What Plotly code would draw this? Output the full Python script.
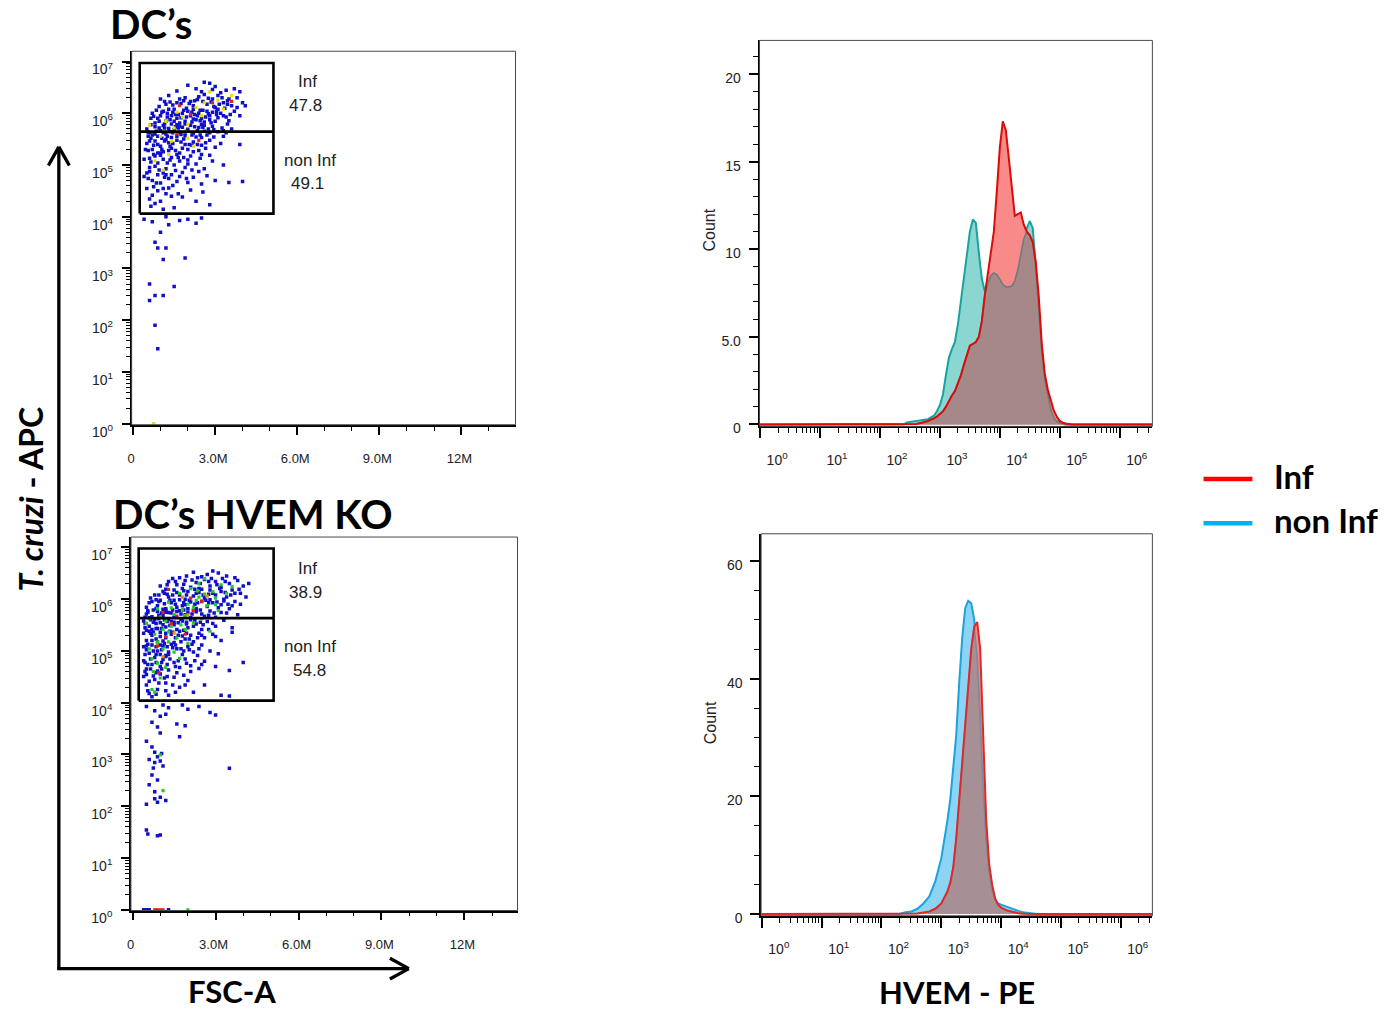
import plotly.graph_objects as go

W, H = 1391, 1027


def px(x):
    return x / W


def py(y):
    return 1 - y / H


# ------------------------------------------------------------------
# DATA
# Dot plots: (FSC-A in millions, T. cruzi - APC intensity)
# ------------------------------------------------------------------
tl_blue = [
    (2.0, 3.5e6), (2.6, 4.0e6), (2.8, 3.8e6), (3.0, 3.3e6), (2.3, 3.0e6), (3.4, 2.8e6), (3.7, 3.0e6),
    (3.9, 2.6e6), (1.6, 2.7e6), (2.9, 2.9e6), (3.2, 2.5e6), (2.5, 2.6e6),
    (1.0, 1.9e6), (1.3, 2.2e6), (1.6, 1.6e6), (1.9, 2.0e6), (2.1, 1.7e6), (2.4, 2.1e6), (2.7, 1.5e6),
    (2.9, 1.9e6), (3.1, 2.2e6), (3.3, 1.6e6), (3.5, 1.9e6), (3.8, 2.0e6), (4.0, 1.6e6), (4.1, 1.4e6),
    (3.6, 1.4e6), (2.2, 1.4e6), (1.7, 1.9e6), (1.2, 1.5e6), (2.6, 2.3e6), (3.0, 1.3e6),
    (0.7, 1.0e6), (0.9, 8e5), (1.1, 1.1e6), (1.2, 7e5), (1.4, 9e5), (1.5, 1.2e6), (1.6, 8e5),
    (1.8, 1.0e6), (1.9, 7e5), (2.0, 1.1e6), (2.1, 9e5), (2.3, 7.5e5), (2.4, 1.0e6), (2.5, 8e5),
    (2.7, 1.1e6), (2.8, 9e5), (3.0, 7e5), (3.2, 1.0e6), (3.4, 8.5e5), (3.7, 1.1e6), (3.9, 9e5),
    (1.3, 1.2e6), (1.7, 6.5e5), (2.2, 1.2e6), (2.6, 6.8e5), (3.1, 1.2e6), (0.8, 6.5e5), (1.0, 9e5),
    (1.5, 7e5), (2.9, 1.05e6),
    (0.5, 5e5), (0.6, 4.2e5), (0.8, 5.5e5), (0.9, 3.6e5), (1.0, 4.6e5), (1.1, 5.8e5), (1.2, 4e5),
    (1.3, 5.1e5), (1.4, 3.4e5), (1.5, 4.8e5), (1.6, 6e5), (1.7, 4.3e5), (1.8, 5.4e5), (1.9, 3.7e5),
    (2.0, 4.9e5), (2.1, 5.9e5), (2.2, 4.1e5), (2.3, 3.5e5), (2.4, 5.3e5), (2.6, 4.5e5), (2.7, 3.8e5),
    (2.9, 5.6e5), (3.1, 4.4e5), (3.3, 3.6e5), (3.6, 5.0e5), (1.05, 3.3e5), (1.55, 5.5e5),
    (1.75, 3.9e5), (0.7, 3.8e5), (2.5, 6.1e5),
    (0.5, 2.6e5), (0.7, 2.0e5), (0.8, 2.9e5), (1.0, 2.3e5), (1.1, 1.8e5), (1.3, 2.7e5), (1.4, 2.1e5),
    (1.6, 3.0e5), (1.7, 1.7e5), (1.9, 2.5e5), (2.0, 2.0e5), (2.2, 2.8e5), (2.4, 1.9e5), (2.5, 2.4e5),
    (2.8, 3.0e5), (3.0, 2.2e5), (1.2, 3.1e5), (0.9, 1.7e5), (3.9, 2.5e5),
    (0.4, 1.3e5), (0.6, 9e4), (0.8, 1.5e5), (0.9, 1.1e5), (1.1, 1.3e5), (1.2, 8.5e4), (1.4, 1.4e5),
    (1.5, 1.0e5), (1.7, 1.2e5), (1.9, 9e4), (2.1, 1.5e5), (2.3, 1.05e5), (2.6, 8.5e4), (2.9, 1.2e5),
    (3.3, 1.0e5), (1.0, 1.55e5), (2.0, 1.25e5),
    (0.4, 6e4), (0.6, 7.5e4), (0.7, 5e4), (0.9, 6.5e4), (1.0, 4.5e4), (1.1, 7e4), (1.3, 5.5e4),
    (1.6, 4.8e4), (1.8, 7.2e4), (2.0, 4.6e4), (2.2, 5.8e4), (2.5, 4.3e4), (2.7, 6.2e4), (3.0, 5.0e4),
    (3.5, 4.6e4), (4.0, 4.8e4), (1.4, 6.5e4), (2.4, 7.5e4),
    (0.5, 3.5e4), (0.7, 2.6e4), (0.9, 3.2e4), (1.0, 2.0e4), (1.2, 2.8e4), (1.3, 3.6e4), (1.5, 1.5e4),
    (1.8, 2.4e4), (2.1, 3.3e4), (2.3, 2.0e4), (2.8, 1.7e4), (1.1, 1.4e4), (0.8, 1.8e4),
    (0.4, 9e3), (0.7, 8e3), (1.2, 1.0e4), (1.3, 7e3), (1.7, 8.5e3), (2.0, 9e3), (2.3, 7.5e3),
    (2.5, 9.5e3), (1.0, 5e3), (0.8, 3.2e3), (0.9, 2.5e3), (1.1, 1.5e3), (1.2, 2.5e3), (1.9, 1.6e3),
    (0.6, 5e2), (0.6, 2.4e2), (0.8, 3e2), (1.1, 3e2), (1.5, 4.5e2), (0.8, 8e1), (0.9, 2.8e1),
    # denser core
    (1.35, 1.65e6), (1.85, 1.75e6), (2.35, 1.85e6), (2.75, 1.95e6), (3.25, 2.0e6), (3.45, 1.5e6),
    (1.45, 1.05e6), (1.95, 1.25e6), (2.45, 1.15e6), (2.95, 1.35e6), (3.35, 1.25e6), (3.8, 1.3e6),
    (0.85, 1.15e6), (1.25, 8.5e5), (1.75, 8.2e5), (2.25, 9.5e5), (2.65, 8.5e5), (3.05, 9.5e5),
    (3.55, 9.5e5), (0.65, 8e5), (1.15, 6.2e5), (1.65, 5.2e5), (2.15, 6.8e5), (2.55, 5.4e5),
    (2.85, 6.6e5), (3.45, 6.2e5), (0.55, 4.3e5), (0.95, 5.2e5), (1.45, 4.2e5), (1.95, 4.5e5),
    (2.35, 4.6e5), (2.75, 5.0e5), (3.25, 5.2e5), (0.65, 3.3e5), (1.25, 3.6e5), (1.85, 3.2e5),
    (2.45, 3.8e5), (2.95, 3.5e5), (0.75, 2.4e5), (1.35, 2.3e5), (1.55, 1.9e5), (2.15, 2.4e5),
    (2.65, 2.1e5), (0.55, 1.9e5), (1.05, 2.0e5), (1.85, 1.4e5), (2.45, 1.35e5), (0.65, 1.15e5),
    (1.25, 1.1e5), (0.95, 8e4), (1.55, 7.8e4), (2.15, 8e4), (0.55, 5.5e4), (1.15, 5.8e4),
    (1.95, 5.5e4), (0.75, 3.8e4), (1.45, 4e4), (2.55, 3e4), (0.65, 1.6e4), (1.65, 2.8e4),
    (0.95, 1.35e6), (1.15, 1.7e6), (1.45, 1.45e6), (1.75, 1.55e6), (2.05, 1.55e6), (2.25, 1.75e6),
    (2.55, 1.7e6), (2.85, 1.65e6), (3.15, 1.5e6), (3.45, 1.75e6),
    (1.05, 1.05e6), (1.25, 1.0e6), (1.55, 9.5e5), (1.85, 1.15e6), (2.15, 1.05e6), (2.35, 9e5),
    (2.55, 1.15e6), (2.75, 9.8e5), (3.05, 1.1e6), (3.3, 9e5),
    (0.75, 8.8e5), (0.95, 7e5), (1.35, 7.5e5), (1.65, 9.5e5), (1.95, 8.5e5), (2.2, 7.8e5),
    (2.45, 7.2e5), (2.8, 7.5e5), (3.1, 8.2e5), (3.5, 7.2e5),
    (0.65, 6e5), (0.85, 4.5e5), (1.15, 5.2e5), (1.4, 6.2e5), (1.7, 5.6e5), (1.9, 6.2e5),
    (2.25, 5.5e5), (2.6, 5.9e5), (2.95, 4.8e5), (3.3, 4.6e5),
    (0.55, 3.6e5), (0.8, 4.0e5), (1.1, 4.2e5), (1.35, 4.4e5), (1.6, 3.6e5), (1.9, 4.1e5),
    (2.15, 3.8e5), (2.5, 3.4e5), (2.8, 4.2e5), (3.4, 4.2e5),
    (0.6, 2.9e5), (0.9, 2.5e5), (1.15, 2.9e5), (1.45, 2.6e5), (1.75, 2.8e5), (2.05, 2.5e5),
    (2.35, 2.5e5), (2.65, 2.7e5), (3.2, 2.6e5), (0.45, 2.0e5),
    (0.75, 1.6e5), (1.0, 1.7e5), (1.3, 1.9e5), (1.6, 1.6e5), (1.8, 2.1e5), (2.2, 1.8e5),
    (2.5, 1.6e5), (2.8, 1.55e5), (0.6, 1.35e5), (1.35, 1.25e5),
    (1.65, 1.4e5), (2.0, 1.05e5), (0.8, 9.5e4), (1.2, 6.5e4), (0.5, 7e4), (1.7, 6e4),
    (0.85, 4.5e4), (1.1, 3.5e4), (0.6, 2.2e4), (1.4, 2.5e4),
]
tl_yellow = [
    (1.2, 7e5), (1.5, 5.2e5), (1.8, 8.5e5), (2.0, 6.2e5), (2.3, 1.3e6), (2.6, 1.6e6), (3.1, 1.8e6),
    (3.6, 2.2e6), (1.0, 3.6e5), (1.4, 2.9e5), (1.9, 4.4e5), (2.2, 2.3e5), (0.8, 1.2e5), (1.1, 8e4),
    (2.5, 9e5), (1.6, 1.05e6), (2.8, 2.6e6), (0.6, 6e5), (1.3, 1.6e5), (3.3, 1.2e6), (0.75, 1.0),
    (2.0, 3.3e5),
]
tl_red = [(1.7, 1.4e6), (2.9, 1.6e6), (3.6, 1.7e6), (2.1, 9.5e5), (1.6, 4e5), (2.4, 3e5)]

bl_blue = [
    (1.7, 2.6e6), (2.2, 3.3e6), (2.7, 3.0e6), (3.1, 3.2e6), (3.4, 2.8e6), (2.5, 2.7e6), (3.7, 2.6e6),
    (2.9, 3.5e6),
    (1.0, 1.8e6), (1.3, 2.2e6), (1.6, 1.9e6), (1.9, 2.3e6), (2.1, 1.7e6), (2.3, 2.1e6), (2.6, 2.4e6),
    (2.8, 1.8e6), (3.0, 2.2e6), (3.2, 1.7e6), (3.5, 2.0e6), (3.8, 2.3e6), (4.0, 1.8e6), (4.2, 2.0e6),
    (2.4, 1.6e6), (1.8, 1.6e6),
    (0.8, 1.2e6), (1.1, 1.4e6), (1.3, 1.1e6), (1.5, 1.5e6), (1.7, 1.2e6), (1.9, 1.0e6), (2.0, 1.4e6),
    (2.2, 1.15e6), (2.4, 1.35e6), (2.6, 1.05e6), (2.8, 1.5e6), (3.0, 1.2e6), (3.2, 1.4e6),
    (3.4, 1.1e6), (3.6, 1.5e6), (3.9, 1.3e6), (4.1, 1.1e6), (2.5, 1.55e6), (1.2, 1.55e6), (3.3, 1.0e6),
    (0.5, 7e5), (0.7, 9e5), (0.9, 7.5e5), (1.0, 9.5e5), (1.2, 6.5e5), (1.4, 8.5e5), (1.6, 7e5),
    (1.7, 9.8e5), (1.9, 7.8e5), (2.1, 8.8e5), (2.3, 6.6e5), (2.5, 9e5), (2.7, 7.2e5), (2.9, 8.5e5),
    (3.1, 6.8e5), (3.3, 9.2e5), (3.6, 7.5e5), (3.9, 8.0e5), (1.1, 6.4e5), (2.0, 6.5e5), (2.8, 9.7e5),
    (3.5, 6.5e5),
    (0.5, 5.2e5), (0.7, 4.6e5), (0.9, 5.8e5), (1.1, 4.8e5), (1.3, 5.5e5), (1.5, 4.5e5), (1.7, 6e5),
    (1.9, 5e5), (2.1, 4.4e5), (2.3, 5.7e5), (2.6, 4.7e5), (2.8, 5.9e5), (3.0, 4.5e5), (3.4, 5.4e5),
    (3.8, 5.0e5), (1.2, 6.1e5), (2.0, 5.6e5),
    (0.4, 3.8e5), (0.6, 3.0e5), (0.8, 4.0e5), (0.9, 2.7e5), (1.0, 3.5e5), (1.2, 2.9e5), (1.3, 4.1e5),
    (1.5, 3.2e5), (1.6, 2.6e5), (1.8, 3.8e5), (2.0, 2.8e5), (2.1, 4.0e5), (2.3, 3.3e5), (2.5, 2.6e5),
    (2.7, 3.7e5), (3.0, 3.0e5), (3.3, 3.9e5), (3.6, 2.8e5), (0.7, 2.6e5), (1.4, 3.7e5),
    (0.4, 2.2e5), (0.5, 1.6e5), (0.7, 2.0e5), (0.9, 1.5e5), (1.0, 2.3e5), (1.2, 1.8e5), (1.4, 2.1e5),
    (1.5, 1.45e5), (1.7, 2.4e5), (1.9, 1.7e5), (2.1, 2.0e5), (2.2, 1.5e5), (2.4, 2.2e5), (2.6, 1.8e5),
    (2.9, 2.1e5), (3.2, 1.6e5), (0.6, 2.4e5), (1.1, 1.55e5), (1.8, 1.95e5), (3.6, 2.3e5),
    (0.4, 1.2e5), (0.6, 9e4), (0.7, 1.3e5), (0.9, 1.0e5), (1.0, 8.5e4), (1.1, 1.25e5), (1.3, 9.5e4),
    (1.4, 1.35e5), (1.6, 1.1e5), (1.8, 8.5e4), (2.0, 1.2e5), (2.2, 9.5e4), (2.5, 1.3e5), (2.8, 1.0e5),
    (3.1, 8.8e4), (0.5, 1.05e5), (1.2, 8.2e4),
    (0.4, 6.5e4), (0.5, 4.5e4), (0.7, 5.5e4), (0.8, 7.5e4), (1.0, 5e4), (1.1, 6.8e4), (1.3, 4.3e4),
    (1.5, 6e4), (1.7, 4.8e4), (1.9, 7e4), (2.1, 5.2e4), (2.4, 4.6e4), (2.6, 6.3e4), (3.0, 5e4),
    (3.5, 4.2e4), (4.0, 6e4), (0.9, 4.1e4), (1.2, 7.8e4),
    (0.4, 3.2e4), (0.5, 2.2e4), (0.6, 1.5e4), (0.8, 2.8e4), (0.9, 1.8e4), (1.0, 3.6e4), (1.2, 2.4e4),
    (1.3, 1.4e4), (1.5, 3.1e4), (1.7, 2.0e4), (2.0, 2.7e4), (2.2, 1.6e4), (2.6, 2.2e4), (3.2, 1.4e4),
    (3.5, 1.35e4), (0.7, 1.3e4),
    (0.5, 8.5e3), (0.8, 7e3), (1.1, 9e3), (1.3, 8e3), (1.8, 9e3), (2.0, 7.5e3), (2.4, 8.5e3),
    (2.8, 6.5e3), (3.0, 5.8e3), (1.0, 5.5e3), (1.2, 6e3), (0.7, 4.2e3), (0.9, 3.4e3), (1.0, 2.6e3),
    (1.6, 3.9e3), (1.9, 3.6e3), (1.7, 2.2e3), (0.5, 1.8e3), (0.7, 1.4e3), (0.8, 1.1e3), (0.9, 9e2),
    (0.6, 8e2), (0.8, 7e2), (1.0, 7.5e2), (1.1, 6e2), (0.7, 4e2), (0.9, 3.2e2), (0.6, 2.6e2),
    (0.8, 1.9e2), (1.0, 1.5e2), (0.9, 1.2e2), (0.8, 1.4e2), (1.2, 1.3e2), (0.5, 1.1e2), (1.05, 1.05e3),
    (0.75, 5.5e2), (3.5, 5.4e2), (0.5, 35), (0.55, 29), (0.9, 27), (1.0, 28),
    (0.4, 1.0), (0.5, 1.0), (0.6, 1.0), (1.3, 1.0),
    # denser core
    (1.45, 2.5e6), (1.95, 2.8e6), (2.35, 2.6e6), (2.85, 2.5e6), (3.25, 2.5e6), (1.15, 1.3e6),
    (1.45, 1.2e6), (1.85, 1.45e6), (2.25, 1.55e6), (2.75, 1.25e6), (3.15, 1.6e6), (3.55, 1.2e6),
    (3.85, 1.55e6), (0.65, 1.05e6), (0.95, 9e5), (1.35, 9.5e5), (1.55, 8e5), (1.85, 8.5e5),
    (2.25, 8e5), (2.65, 9.5e5), (3.05, 8.8e5), (3.45, 8e5), (0.55, 6e5), (0.85, 6.6e5), (1.05, 5.4e5),
    (1.45, 6.2e5), (1.75, 5.2e5), (2.15, 5.2e5), (2.45, 6.2e5), (2.95, 5.4e5), (0.45, 4.5e5),
    (0.65, 4.0e5), (0.85, 3.4e5), (1.15, 4.0e5), (1.35, 3.1e5), (1.65, 3.5e5), (1.95, 3.3e5),
    (2.25, 3.9e5), (2.55, 3.2e5), (0.45, 2.8e5), (0.75, 2.3e5), (1.05, 2.7e5), (1.35, 2.4e5),
    (1.55, 1.8e5), (1.95, 2.2e5), (2.35, 1.8e5), (2.75, 2.6e5), (0.55, 1.35e5), (0.85, 1.7e5),
    (1.15, 1.4e5), (1.45, 1.15e5), (1.75, 1.5e5), (2.15, 1.35e5), (0.45, 8.5e4), (0.75, 1.0e5),
    (1.05, 1.05e5), (1.35, 7e4), (1.85, 1.0e5), (2.35, 8.2e4), (0.55, 5.5e4), (0.85, 6e4),
    (1.25, 5.5e4), (1.65, 6.5e4), (2.25, 6.5e4), (0.45, 4e4), (0.75, 3.3e4), (1.15, 3.0e4),
    (1.45, 2.2e4), (1.85, 3.4e4), (0.55, 1.7e4), (0.95, 2.4e4), (1.55, 1.6e4),
    (1.25, 1.9e6), (1.55, 2.2e6), (1.85, 1.95e6), (2.15, 2.35e6), (2.45, 2.0e6), (2.75, 2.2e6),
    (3.05, 1.9e6), (3.35, 2.2e6),
    (0.95, 1.2e6), (1.25, 1.25e6), (1.6, 1.35e6), (1.95, 1.2e6), (2.3, 1.3e6), (2.55, 1.2e6),
    (2.9, 1.3e6), (3.35, 1.35e6), (3.7, 1.3e6),
    (0.6, 8.5e5), (0.85, 9.8e5), (1.15, 8.2e5), (1.5, 9.5e5), (1.8, 7.5e5), (2.05, 9.5e5),
    (2.35, 8.5e5), (2.75, 8.5e5), (3.2, 7.8e5), (3.7, 9e5),
    (0.55, 5.6e5), (0.75, 6.2e5), (0.95, 4.9e5), (1.2, 5.6e5), (1.4, 5.4e5), (1.6, 5.8e5),
    (1.85, 6.2e5), (2.2, 6.1e5), (2.5, 5.2e5), (2.75, 4.9e5), (3.2, 5.5e5),
    (0.45, 3.4e5), (0.6, 4.4e5), (0.75, 3.6e5), (0.95, 4.2e5), (1.1, 3.2e5), (1.25, 3.7e5),
    (1.5, 3.6e5), (1.75, 4.1e5), (1.95, 3.6e5), (2.2, 3.0e5), (2.45, 3.6e5), (2.9, 3.4e5),
    (0.5, 2.5e5), (0.65, 2.2e5), (0.85, 2.7e5), (1.0, 1.9e5), (1.2, 2.2e5), (1.45, 2.3e5),
    (1.65, 2.0e5), (1.85, 2.5e5), (2.05, 1.7e5), (2.5, 2.0e5), (3.0, 1.9e5),
    (0.5, 1.25e5), (0.7, 1.6e5), (0.85, 1.2e5), (1.0, 1.3e5), (1.25, 1.2e5), (1.55, 1.3e5),
    (1.75, 1.1e5), (2.05, 1.05e5), (2.4, 1.1e5),
    (0.45, 6e4), (0.65, 7e4), (0.85, 8.5e4), (1.05, 6e4), (1.3, 8.5e4), (1.55, 5e4), (1.95, 5.8e4),
    (2.5, 5.5e4),
    (0.5, 3.5e4), (0.65, 4.5e4), (0.85, 3.8e4), (1.05, 4.5e4), (1.25, 3.2e4), (1.6, 3.8e4),
    (2.1, 4e4), (0.6, 2.6e4), (0.85, 1.45e4), (1.2, 1.7e4), (1.9, 2.2e4),
]
bl_green = [
    (1.0, 4.5e5), (1.2, 3.8e5), (0.8, 2.1e5), (1.5, 5.1e5), (1.8, 6.2e5), (2.0, 8e5), (2.3, 9.5e5),
    (2.6, 1.25e6), (2.9, 1.4e6), (3.2, 1.9e6), (2.4, 2.0e6), (1.7, 1.3e6), (1.3, 8.8e5), (0.9, 1.5e5),
    (1.1, 1.1e5), (0.7, 7e4), (0.9, 5.8e4), (1.0, 3.0e4), (0.8, 1.6e4), (1.3, 2.3e5), (1.6, 1.8e5),
    (1.9, 2.6e5), (2.2, 3.5e5), (2.5, 4.2e5), (2.7, 7.5e5), (3.0, 1.05e6), (3.4, 1.3e6), (3.6, 1.75e6),
    (2.1, 1.6e6), (1.4, 6.8e5), (0.6, 4.2e5), (0.5, 3.4e5), (1.1, 2.6e5), (1.5, 9.5e4), (2.0, 1.4e5),
    (2.8, 2.4e5), (0.7, 1.8e4), (1.2, 4.8e4), (1.7, 7.2e4), (2.4, 1.1e6), (1.9, 4.8e5), (3.1, 6e5),
    (1.4, 3.0e5), (0.9, 6.5e5), (2.2, 7e5), (2.6, 2.5e6), (1.0, 9.8e2), (1.1, 2.0e2), (2.0, 1.0),
    (3.0, 7.8e5), (0.6, 1.1e5), (1.3, 1.5e5), (0.75, 4.0e4), (1.75, 3.2e5), (2.35, 1.45e6),
]
bl_red = [
    (1.1, 5.5e5), (1.6, 4.7e5), (2.1, 1.05e6), (2.5, 9.2e5), (1.4, 3.4e5), (0.9, 1.25e5), (1.3, 1.55e6),
    (1.9, 2.1e5), (2.2, 6e5), (0.95, 3.8e4), (1.2, 1.9e5), (0.8, 1.0), (0.9, 1.0), (1.0, 1.0), (1.1, 1.0),
]
bl_orange = [(1.5, 2.2e5), (2.0, 5e5), (2.7, 1.15e6), (1.1, 7.8e4), (1.8, 1.1e6), (0.85, 1.0)]

# Gates: FSC-A limits (M) and APC limits (bottom, split, top)
tl_gate_fsc = [0.24, 5.13]
tl_gate_apc = [1.15e4, 4.43e5, 9.4e6]
bl_gate_fsc = [0.22, 5.10]
bl_gate_apc = [1.1e4, 4.3e5, 9.5e6]
gate_names = ["Inf", "non Inf"]
tl_gate_pct = ["47.8", "49.1"]
bl_gate_pct = ["38.9", "54.8"]

# Histograms: HVEM - PE (log10 intensity) and Count
hist_top_log = [0, 2.4, 2.45, 2.6, 2.7, 2.8, 2.9, 2.95,
                3.0, 3.05, 3.1, 3.15, 3.2, 3.25, 3.3, 3.35, 3.4, 3.45, 3.5, 3.55, 3.6, 3.65, 3.7,
                3.75, 3.8, 3.85, 3.9, 3.95, 4.0, 4.05, 4.1, 4.15, 4.2, 4.25, 4.3, 4.35, 4.4, 4.45,
                4.5, 4.55, 4.6, 4.65, 4.7, 4.75, 4.8, 4.85, 4.9, 4.95, 5.0, 5.05, 5.1, 5.2, 6.54]
top_noninf = [0, 0, 0.12, 0.2, 0.25, 0.3, 0.5, 0.75,
              1.1, 1.7, 2.8, 3.8, 4.3, 4.7, 5.7, 7.0, 8.3, 9.8, 11.0, 11.7, 11.5, 9.8, 8.3,
              7.6, 8.05, 8.5, 8.65, 8.55, 8.25, 8.0, 7.85, 7.85, 7.9, 8.2, 8.8, 9.7, 10.6, 11.2,
              11.6, 11.2, 8.9, 6.6, 4.2, 2.6, 1.6, 0.85, 0.4, 0.18, 0.08, 0.03, 0, 0, 0]
top_inf = [0, 0, 0, 0.03, 0.1, 0.2, 0.35, 0.45,
           0.6, 0.75, 1.0, 1.35, 1.65, 1.9, 2.3, 2.8, 3.4, 4.0, 4.5, 4.6, 4.7, 5.0, 5.9,
           7.4, 8.7, 9.7, 11.0, 13.3, 15.8, 17.3, 16.8, 15.2, 13.6, 11.9, 12.0, 12.1, 11.4, 11.0,
           10.8, 10.4, 9.3, 7.3, 4.6, 2.9, 2.0, 1.4, 0.8, 0.45, 0.2, 0.1, 0.05, 0, 0]

hist_bot_log = [0, 2.3, 2.4, 2.5, 2.6, 2.7, 2.8, 2.9,
                3.0, 3.05, 3.1, 3.15, 3.2, 3.25, 3.3, 3.35, 3.4, 3.45, 3.5, 3.55, 3.6, 3.65, 3.7,
                3.75, 3.8, 3.85, 3.9, 3.95, 4.0, 4.1, 4.2, 4.3, 4.4, 4.5, 4.6, 6.53]
bot_noninf = [0, 0, 0.3, 0.45, 0.9, 1.8, 3.0, 5.6,
              9.5, 12.3, 15.8, 19.5, 24.5, 30.5, 39.5, 47, 52, 53.2, 52.8, 50, 43.5, 33.5, 21,
              12.7, 7.0, 4.0, 2.5, 1.8, 1.6, 1.2, 0.85, 0.5, 0.25, 0.1, 0, 0]
bot_inf = [0, 0, 0, 0.05, 0.1, 0.25, 0.45, 0.9,
           1.8, 2.8, 3.8, 5.3, 8.0, 13, 19.5, 25.5, 32.5, 39.5, 45, 48.8, 49.6, 45, 31.5,
           16, 8.5, 5, 2.6, 1.6, 1.1, 0.6, 0.35, 0.12, 0.05, 0, 0, 0]

# ------------------------------------------------------------------
# FIGURE
# ------------------------------------------------------------------
fig = go.Figure()

TICKFONT = dict(family="Liberation Sans, Arial, sans-serif", size=14, color="#222222")
BIG = "Lato, 'Open Sans', sans-serif"


def add_dots(pts, color, xa, ya, size=3.5):
    fig.add_trace(go.Scatter(
        x=[p[0] for p in pts], y=[p[1] for p in pts], mode="markers",
        marker=dict(symbol="square", size=size, color=color, line=dict(width=0)),
        xaxis=xa, yaxis=ya, showlegend=False, hoverinfo="skip"))


def add_gate(fsc, apc, xa, ya):
    x0, x1 = fsc
    b, m, t = apc
    fig.add_trace(go.Scatter(x=[x0, x1, x1, x0, x0], y=[b, b, t, t, b], mode="lines",
                             line=dict(color="black", width=2.6), xaxis=xa, yaxis=ya,
                             showlegend=False, hoverinfo="skip"))
    fig.add_trace(go.Scatter(x=[x0, x1], y=[m, m], mode="lines",
                             line=dict(color="black", width=2.6), xaxis=xa, yaxis=ya,
                             showlegend=False, hoverinfo="skip"))


add_dots(tl_blue, "#1010C8", "x", "y")
add_dots(tl_yellow, "#E6E000", "x", "y", 3.2)
add_dots(tl_red, "#E02020", "x", "y", 3.2)
add_gate(tl_gate_fsc, tl_gate_apc, "x", "y")

add_dots(bl_blue, "#1010C8", "x2", "y2")
add_dots(bl_green, "#22CC22", "x2", "y2", 3.2)
add_dots(bl_orange, "#F09000", "x2", "y2", 3.2)
add_dots(bl_red, "#E02020", "x2", "y2", 3.2)
add_gate(bl_gate_fsc, bl_gate_apc, "x2", "y2")


def add_hist(logx, other, inf, xa, ya, o_fill, o_line, r_fill, r_line, ov_fill, ov_line):
    xs = [10 ** v for v in logx]
    ov = [min(a, b) for a, b in zip(other, inf)]
    fig.add_trace(go.Scatter(x=xs, y=other, mode="lines", fill="tozeroy", fillcolor=o_fill,
                             line=dict(color=o_line, width=2), xaxis=xa, yaxis=ya,
                             showlegend=False, hoverinfo="skip"))
    fig.add_trace(go.Scatter(x=xs, y=inf, mode="lines", fill="tozeroy", fillcolor=r_fill,
                             line=dict(width=0), xaxis=xa, yaxis=ya,
                             showlegend=False, hoverinfo="skip"))
    fig.add_trace(go.Scatter(x=xs, y=ov, mode="lines", fill="tozeroy", fillcolor=ov_fill,
                             line=dict(color=ov_line, width=1.6), xaxis=xa, yaxis=ya,
                             showlegend=False, hoverinfo="skip"))
    fig.add_trace(go.Scatter(x=xs, y=inf, mode="lines", line=dict(color=r_line, width=2),
                             xaxis=xa, yaxis=ya, showlegend=False, hoverinfo="skip"))


add_hist(hist_top_log, top_noninf, top_inf, "x3", "y3",
         "#8CD6D1", "#17A3A0", "#F98A8A", "#DD0A0A", "#A68888", "#6E7C7C")
add_hist(hist_bot_log, bot_noninf, bot_inf, "x4", "y4",
         "#8DD3F4", "#1AA3DC", "#F98A8A", "#E02828", "#A69095", "#7A8A96")

# ------------------------------------------------------------------
# AXES
# ------------------------------------------------------------------
log_major = [10 ** n for n in range(0, 8)]
log_major_txt = ["10<sup>%d</sup>" % n for n in range(0, 8)]
log_minor = [k * 10 ** n for n in range(0, 7) for k in range(2, 10)]

fsc_major = [0, 3, 6, 9, 12]
fsc_major_txt = ["0", "3.0M", "6.0M", "9.0M", "12M"]
fsc_minor = [1, 2, 4, 5, 7, 8, 10, 11, 13]


def scatter_x(domain, rng, anchor):
    return dict(domain=domain, range=rng, anchor=anchor, type="linear",
                tickmode="array", tickvals=fsc_major, ticktext=fsc_major_txt,
                ticks="outside", ticklen=8, tickwidth=1.6, tickcolor="black",
                minor=dict(tickmode="array", tickvals=fsc_minor, ticks="outside", ticklen=4,
                           tickwidth=1, tickcolor="black", showgrid=False),
                showline=True, linecolor="black", linewidth=1.6, showgrid=False, zeroline=False,
                tickfont=dict(TICKFONT, size=13), ticklabelstandoff=13, ticklabelshift=-2,
                fixedrange=True)


def scatter_y(domain, rng, anchor):
    return dict(domain=domain, range=rng, anchor=anchor, type="log",
                tickmode="array", tickvals=log_major, ticktext=log_major_txt,
                ticks="outside", ticklen=8, tickwidth=1.6, tickcolor="black",
                minor=dict(tickmode="array", tickvals=log_minor, ticks="outside", ticklen=4,
                           tickwidth=1, tickcolor="black", showgrid=False),
                showline=True, linecolor="black", linewidth=1.6, showgrid=False, zeroline=False,
                tickfont=TICKFONT, ticklabelstandoff=6, ticklabelshift=8, fixedrange=True)


def hist_x(domain, rng, anchor):
    return dict(domain=domain, range=rng, anchor=anchor, type="log",
                tickmode="array", tickvals=log_major[:7], ticktext=log_major_txt[:7],
                ticks="outside", ticklen=10, tickwidth=1.8, tickcolor="black",
                minor=dict(tickmode="array", tickvals=log_minor, ticks="outside", ticklen=5,
                           tickwidth=1, tickcolor="black", showgrid=False),
                showline=True, linecolor="black", linewidth=1.6, showgrid=False, zeroline=False,
                tickfont=TICKFONT, ticklabelstandoff=10, ticklabelshift=17, fixedrange=True)


def hist_y(domain, rng, anchor, major, major_txt, minor):
    return dict(domain=domain, range=rng, anchor=anchor, type="linear",
                tickmode="array", tickvals=major, ticktext=major_txt,
                ticks="outside", ticklen=9, tickwidth=1.6, tickcolor="black",
                minor=dict(tickmode="array", tickvals=minor, ticks="outside", ticklen=5,
                           tickwidth=1, tickcolor="black", showgrid=False),
                showline=True, linecolor="black", linewidth=1.6, showgrid=False, zeroline=False,
                tickfont=TICKFONT, ticklabelstandoff=5, ticklabelshift=4, fixedrange=True)


fig.update_layout(
    xaxis=scatter_x([px(128), px(513)], [-0.055, 13.98], "y"),
    yaxis=scatter_y([py(431), py(52)], [-0.02, 7.2], "x"),
    xaxis2=scatter_x([px(127.3), px(515)], [-0.06, 13.92], "y2"),
    yaxis2=scatter_y([py(924), py(545)], [-0.013, 7.2], "x2"),
    xaxis3=hist_x([px(757.7), px(1151.7)], [-0.01, 6.546], "y3"),
    yaxis3=hist_y([py(432.7), py(41)], [-0.11, 21.92], "x3",
                  [0, 5, 10, 15, 20], ["0", "5.0", "10", "15", "20"],
                  [1, 2, 3, 4, 6, 7, 8, 9, 11, 12, 13, 14, 16, 17, 18, 19, 21]),
    xaxis4=hist_x([px(759.3), px(1151.7)], [-0.012, 6.528], "y4"),
    yaxis4=hist_y([py(929.3), py(541.7)], [-0.28, 64.6], "x4",
                  [0, 20, 40, 60], ["0", "20", "40", "60"],
                  [5, 10, 15, 25, 30, 35, 45, 50, 55]),
)

# panel frames (top/right borders)
shapes = []
for xr, yr in [("x", "y"), ("x2", "y2"), ("x3", "y3"), ("x4", "y4")]:
    shapes.append(dict(type="rect", xref=xr + " domain", yref=yr + " domain", x0=0, x1=1, y0=0, y1=1,
                       line=dict(color="#4a4a4a", width=1), layer="above"))


def pline(x0, y0, x1, y1, color="black", width=3.3):
    shapes.append(dict(type="line", xref="paper", yref="paper", x0=px(x0), y0=py(y0),
                       x1=px(x1), y1=py(y1), line=dict(color=color, width=width)))


# big axis arrows
pline(55, 984.5, 55, 149)
pline(55, 149, 44.5, 168)
pline(55, 149, 65.5, 168)
pline(53.5, 983, 406, 983)
pline(406, 983, 387, 972.5)
pline(406, 983, 387, 993.5)

# legend marks
pline(1203, 486, 1252, 486, color="#FF0000", width=4.5)
pline(1203, 531, 1252, 531, color="#00B0F0", width=4.5)

annotations = []


def ann(text, x, y, size, family=BIG, xanchor="center", angle=0, color="black"):
    annotations.append(dict(text=text, x=px(x), y=py(y), xref="paper", yref="paper",
                            xanchor=xanchor, yanchor="middle", showarrow=False, textangle=angle,
                            font=dict(family=family, size=size, color=color)))


ann("<b>DC’s</b>", 147, 24, 40)
ann("<b>DC’s HVEM KO</b>", 249, 522, 40)
ann("<b>FSC-A</b>", 229, 1006, 31)
ann("<b>HVEM - PE</b>", 956, 1007, 31)
ann("<b><i>T. cruzi</i> - APC</b>", 27, 506, 32, angle=-90)
ann("<b>Inf</b>", 1272, 483, 33, xanchor="left")
ann("<b>non Inf</b>", 1272, 528, 33, xanchor="left")

SMALL = "Liberation Sans, Arial, sans-serif"
ann("Count", 708, 233, 16, family=SMALL, angle=-90, color="#222222")
ann("Count", 708, 733, 16, family=SMALL, angle=-90, color="#222222")

# gate labels
for (yn, yp), name, pct in zip([(83, 107), (163, 186)], gate_names, tl_gate_pct):
    ann(name, 304 if name == "Inf" else 307, yn, 17, family=SMALL, color="#222222")
    ann(pct, 302 if name == "Inf" else 304, yp, 17, family=SMALL, color="#222222")
for (yn, yp), name, pct in zip([(577, 601), (656, 680)], gate_names, bl_gate_pct):
    ann(name, 304 if name == "Inf" else 307, yn, 17, family=SMALL, color="#222222")
    ann(pct, 302 if name == "Inf" else 306, yp, 17, family=SMALL, color="#222222")

fig.update_layout(
    width=W, height=H, margin=dict(l=0, r=0, t=0, b=0),
    paper_bgcolor="white", plot_bgcolor="white",
    showlegend=False, shapes=shapes, annotations=annotations,
)

fig.write_html("out.html")
